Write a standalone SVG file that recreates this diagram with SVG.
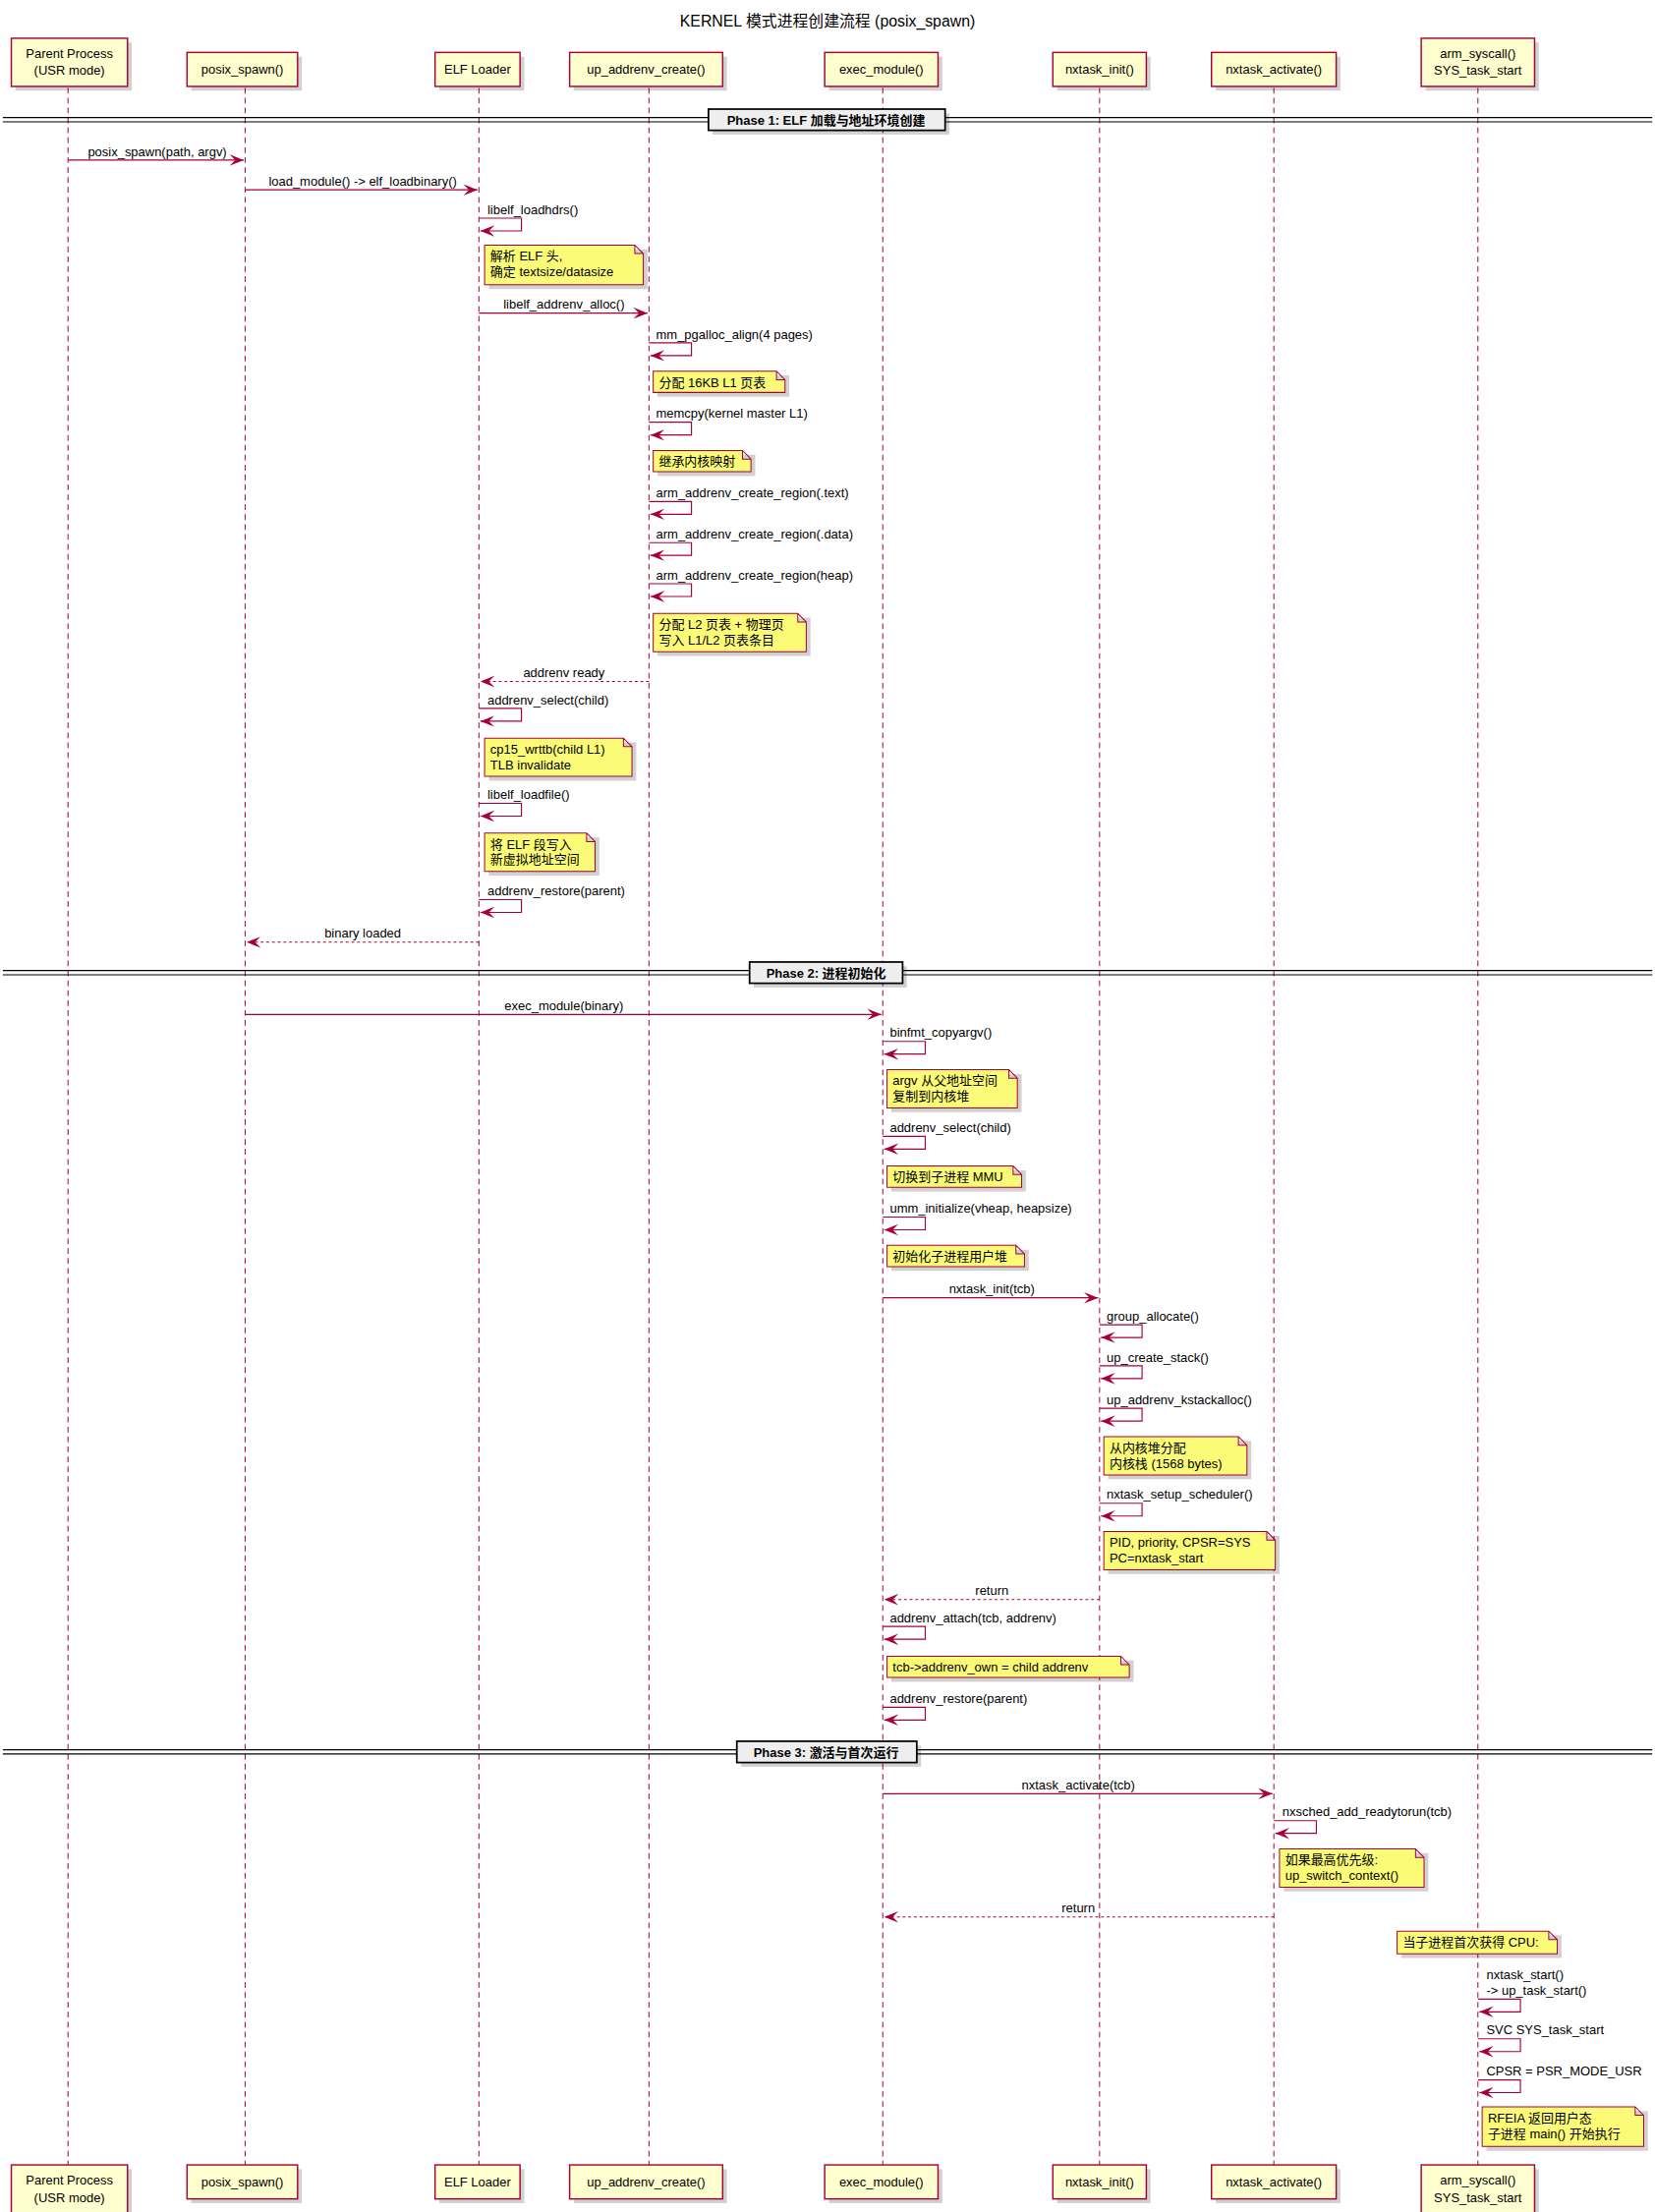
<svg xmlns="http://www.w3.org/2000/svg" width="1684" height="2251" viewBox="0 0 1684 2251">
<style>
text{font-family:"Liberation Sans","Noto Sans CJK SC",sans-serif;font-size:9px;fill:#000}
.t{font-size:11px}
.pb{fill:#FEFECE;stroke:#A80036;stroke-width:1}
.ll{stroke:#A80036;stroke-width:0.7;stroke-dasharray:4 3;fill:none}
.m{stroke:#A80036;stroke-width:0.8;fill:none;marker-end:url(#ah)}
.r{stroke:#A80036;stroke-width:0.8;fill:none;stroke-dasharray:2 2;marker-end:url(#ah)}
.n{fill:#FBFB77;stroke:#A80036;stroke-width:0.7}
.sh{fill:#000;opacity:0.18}
.pl{fill:#EEEEEE;stroke:#000;stroke-width:1.2}
.dv{stroke:#000;stroke-width:0.8}
.b{font-weight:bold}
.c{text-anchor:middle}
</style>
<defs>
<marker id="ah" markerUnits="userSpaceOnUse" markerWidth="12" markerHeight="10" viewBox="0 0 12 10" refX="10" refY="5" orient="auto">
<path d="M0,1 L10,5 L0,9 L4,5 Z" fill="#A80036"/>
</marker>
</defs>
<rect width="1684" height="2251" fill="#fff"/>
<g transform="scale(1.4418)">
<text class="t c" x="584" y="19">KERNEL 模式进程创建流程 (posix_spawn)</text>

<g id="lifelines">
<line class="ll" x1="48" y1="62" x2="48" y2="1528"/>
<line class="ll" x1="173" y1="62" x2="173" y2="1528"/>
<line class="ll" x1="338" y1="62" x2="338" y2="1528"/>
<line class="ll" x1="458" y1="62" x2="458" y2="1528"/>
<line class="ll" x1="623" y1="62" x2="623" y2="1528"/>
<line class="ll" x1="776" y1="62" x2="776" y2="1528"/>
<line class="ll" x1="899" y1="62" x2="899" y2="1528"/>
<line class="ll" x1="1043" y1="62" x2="1043" y2="1528"/>
</g>

<g id="p_parent">
<rect class="sh" x="11" y="30" width="82" height="34"/><rect class="pb" x="8" y="27" width="82" height="34"/>
<text class="c" x="49" y="41">Parent Process</text><text class="c" x="49" y="53">(USR mode)</text>
<rect class="sh" x="11" y="1531" width="82" height="34"/><rect class="pb" x="8" y="1528" width="82" height="34"/>
<text class="c" x="49" y="1542">Parent Process</text><text class="c" x="49" y="1554">(USR mode)</text>
</g>
<g id="p_posix">
<rect class="sh" x="135" y="40" width="78" height="24"/><rect class="pb" x="132" y="37" width="78" height="24"/>
<text class="c" x="171" y="52">posix_spawn()</text>
<rect class="sh" x="135" y="1531" width="78" height="24"/><rect class="pb" x="132" y="1528" width="78" height="24"/>
<text class="c" x="171" y="1543">posix_spawn()</text>
</g>
<g id="p_elf">
<rect class="sh" x="310" y="40" width="60" height="24"/><rect class="pb" x="307" y="37" width="60" height="24"/>
<text class="c" x="337" y="52">ELF Loader</text>
<rect class="sh" x="310" y="1531" width="60" height="24"/><rect class="pb" x="307" y="1528" width="60" height="24"/>
<text class="c" x="337" y="1543">ELF Loader</text>
</g>
<g id="p_up">
<rect class="sh" x="405" y="40" width="108" height="24"/><rect class="pb" x="402" y="37" width="108" height="24"/>
<text class="c" x="456" y="52">up_addrenv_create()</text>
<rect class="sh" x="405" y="1531" width="108" height="24"/><rect class="pb" x="402" y="1528" width="108" height="24"/>
<text class="c" x="456" y="1543">up_addrenv_create()</text>
</g>
<g id="p_exec">
<rect class="sh" x="585" y="40" width="80" height="24"/><rect class="pb" x="582" y="37" width="80" height="24"/>
<text class="c" x="622" y="52">exec_module()</text>
<rect class="sh" x="585" y="1531" width="80" height="24"/><rect class="pb" x="582" y="1528" width="80" height="24"/>
<text class="c" x="622" y="1543">exec_module()</text>
</g>
<g id="p_init">
<rect class="sh" x="746" y="40" width="66" height="24"/><rect class="pb" x="743" y="37" width="66" height="24"/>
<text class="c" x="776" y="52">nxtask_init()</text>
<rect class="sh" x="746" y="1531" width="66" height="24"/><rect class="pb" x="743" y="1528" width="66" height="24"/>
<text class="c" x="776" y="1543">nxtask_init()</text>
</g>
<g id="p_act">
<rect class="sh" x="858" y="40" width="88" height="24"/><rect class="pb" x="855" y="37" width="88" height="24"/>
<text class="c" x="899" y="52">nxtask_activate()</text>
<rect class="sh" x="858" y="1531" width="88" height="24"/><rect class="pb" x="855" y="1528" width="88" height="24"/>
<text class="c" x="899" y="1543">nxtask_activate()</text>
</g>
<g id="p_arm">
<rect class="sh" x="1006" y="30" width="80" height="34"/><rect class="pb" x="1003" y="27" width="80" height="34"/>
<text class="c" x="1043" y="41">arm_syscall()</text><text class="c" x="1043" y="53">SYS_task_start</text>
<rect class="sh" x="1006" y="1531" width="80" height="34"/><rect class="pb" x="1003" y="1528" width="80" height="34"/>
<text class="c" x="1043" y="1542">arm_syscall()</text><text class="c" x="1043" y="1554">SYS_task_start</text>
</g>

<g id="dividers">
<line class="dv" x1="2" y1="83" x2="1166" y2="83"/><line class="dv" x1="2" y1="86" x2="1166" y2="86"/>
<rect class="sh" x="503" y="80" width="167" height="15"/><rect class="pl" x="500" y="77" width="167" height="15"/>
<text class="b c" x="583" y="88">Phase 1: ELF 加载与地址环境创建</text>
<line class="dv" x1="2" y1="685" x2="1166" y2="685"/><line class="dv" x1="2" y1="688" x2="1166" y2="688"/>
<rect class="sh" x="532" y="682" width="108" height="15"/><rect class="pl" x="529" y="679" width="108" height="15"/>
<text class="b c" x="583" y="690">Phase 2: 进程初始化</text>
<line class="dv" x1="2" y1="1235" x2="1166" y2="1235"/><line class="dv" x1="2" y1="1238" x2="1166" y2="1238"/>
<rect class="sh" x="523" y="1232" width="127" height="15"/><rect class="pl" x="520" y="1229" width="127" height="15"/>
<text class="b c" x="583" y="1240">Phase 3: 激活与首次运行</text>
</g>

<g id="connectors">
<path class="m" d="M48,113 H172"/><text class="c" x="111" y="110">posix_spawn(path, argv)</text>
<path class="m" d="M173,134 H337"/><text class="c" x="256" y="131">load_module() -&gt; elf_loadbinary()</text>
<path class="m" d="M338,154 H368 V163 H339"/><text x="344" y="151">libelf_loadhdrs()</text>
<path class="m" d="M338,221 H457"/><text class="c" x="398" y="218">libelf_addrenv_alloc()</text>
<path class="m" d="M458,242 H488 V251 H459"/><text x="463" y="239">mm_pgalloc_align(4 pages)</text>
<path class="m" d="M458,298 H488 V307 H459"/><text x="463" y="295">memcpy(kernel master L1)</text>
<path class="m" d="M458,354 H488 V363 H459"/><text x="463" y="351">arm_addrenv_create_region(.text)</text>
<path class="m" d="M458,383 H488 V392 H459"/><text x="463" y="380">arm_addrenv_create_region(.data)</text>
<path class="m" d="M458,412 H488 V421 H459"/><text x="463" y="409">arm_addrenv_create_region(heap)</text>
<path class="r" d="M458,481 H339"/><text class="c" x="398" y="478">addrenv ready</text>
<path class="m" d="M338,500 H368 V509 H339"/><text x="344" y="497">addrenv_select(child)</text>
<path class="m" d="M338,567 H368 V576 H339"/><text x="344" y="564">libelf_loadfile()</text>
<path class="m" d="M338,635 H368 V644 H339"/><text x="344" y="632">addrenv_restore(parent)</text>
<path class="r" d="M338,665 H174"/><text class="c" x="256" y="662">binary loaded</text>
<path class="m" d="M173,716 H622"/><text class="c" x="398" y="713">exec_module(binary)</text>
<path class="m" d="M623,735 H653 V744 H624"/><text x="628" y="732">binfmt_copyargv()</text>
<path class="m" d="M623,802 H653 V811 H624"/><text x="628" y="799">addrenv_select(child)</text>
<path class="m" d="M623,859 H653 V868 H624"/><text x="628" y="856">umm_initialize(vheap, heapsize)</text>
<path class="m" d="M623,916 H775"/><text class="c" x="700" y="913">nxtask_init(tcb)</text>
<path class="m" d="M776,935 H806 V944 H777"/><text x="781" y="932">group_allocate()</text>
<path class="m" d="M776,964 H806 V973 H777"/><text x="781" y="961">up_create_stack()</text>
<path class="m" d="M776,994 H806 V1003 H777"/><text x="781" y="991">up_addrenv_kstackalloc()</text>
<path class="m" d="M776,1061 H806 V1070 H777"/><text x="781" y="1058">nxtask_setup_scheduler()</text>
<path class="r" d="M776,1129 H624"/><text class="c" x="700" y="1126">return</text>
<path class="m" d="M623,1148 H653 V1157 H624"/><text x="628" y="1145">addrenv_attach(tcb, addrenv)</text>
<path class="m" d="M623,1205 H653 V1214 H624"/><text x="628" y="1202">addrenv_restore(parent)</text>
<path class="m" d="M623,1266 H898"/><text class="c" x="761" y="1263">nxtask_activate(tcb)</text>
<path class="m" d="M899,1285 H929 V1294 H900"/><text x="905" y="1282">nxsched_add_readytorun(tcb)</text>
<path class="r" d="M899,1353 H624"/><text class="c" x="761" y="1350">return</text>
<path class="m" d="M1043,1411 H1073 V1420 H1044"/><text x="1049" y="1397">nxtask_start()</text><text x="1049" y="1408">-&gt; up_task_start()</text>
<path class="m" d="M1043,1439 H1073 V1448 H1044"/><text x="1049" y="1436">SVC SYS_task_start</text>
<path class="m" d="M1043,1468 H1073 V1477 H1044"/><text x="1049" y="1465">CPSR = PSR_MODE_USR</text>
</g>

<g id="notes">
<g><path class="sh" d="M345,176 H457 V204 H345 Z"/><path class="n" d="M342,173 H448 L454,179 V201 H342 Z M448,173 V179 H454"/><text x="346" y="184">解析 ELF 头,</text><text x="346" y="195">确定 textsize/datasize</text></g>
<g><path class="sh" d="M464,265 H557 V280 H464 Z"/><path class="n" d="M461,262 H548 L554,268 V277 H461 Z M548,262 V268 H554"/><text x="465" y="273">分配 16KB L1 页表</text></g>
<g><path class="sh" d="M464,321 H533 V336 H464 Z"/><path class="n" d="M461,318 H524 L530,324 V333 H461 Z M524,318 V324 H530"/><text x="465" y="329">继承内核映射</text></g>
<g><path class="sh" d="M464,436 H572 V463 H464 Z"/><path class="n" d="M461,433 H563 L569,439 V460 H461 Z M563,433 V439 H569"/><text x="465" y="444">分配 L2 页表 + 物理页</text><text x="465" y="455">写入 L1/L2 页表条目</text></g>
<g><path class="sh" d="M345,524 H449 V551 H345 Z"/><path class="n" d="M342,521 H440 L446,527 V548 H342 Z M440,521 V527 H446"/><text x="346" y="532">cp15_wrttb(child L1)</text><text x="346" y="543">TLB invalidate</text></g>
<g><path class="sh" d="M345,591 H423 V618 H345 Z"/><path class="n" d="M342,588 H414 L420,594 V615 H342 Z M414,588 V594 H420"/><text x="346" y="599">将 ELF 段写入</text><text x="346" y="610">新虚拟地址空间</text></g>
<g><path class="sh" d="M629,758 H721 V785 H629 Z"/><path class="n" d="M626,755 H712 L718,761 V782 H626 Z M712,755 V761 H718"/><text x="630" y="766">argv 从父地址空间</text><text x="630" y="777">复制到内核堆</text></g>
<g><path class="sh" d="M629,826 H724 V841 H629 Z"/><path class="n" d="M626,823 H715 L721,829 V838 H626 Z M715,823 V829 H721"/><text x="630" y="834">切换到子进程 MMU</text></g>
<g><path class="sh" d="M629,882 H726 V897 H629 Z"/><path class="n" d="M626,879 H717 L723,885 V894 H626 Z M717,879 V885 H723"/><text x="630" y="890">初始化子进程用户堆</text></g>
<g><path class="sh" d="M782,1017 H883 V1044 H782 Z"/><path class="n" d="M779,1014 H874 L880,1020 V1041 H779 Z M874,1014 V1020 H880"/><text x="783" y="1025">从内核堆分配</text><text x="783" y="1036">内核栈 (1568 bytes)</text></g>
<g><path class="sh" d="M782,1084 H903 V1111 H782 Z"/><path class="n" d="M779,1081 H894 L900,1087 V1108 H779 Z M894,1081 V1087 H900"/><text x="783" y="1092">PID, priority, CPSR=SYS</text><text x="783" y="1103">PC=nxtask_start</text></g>
<g><path class="sh" d="M629,1172 H800 V1187 H629 Z"/><path class="n" d="M626,1169 H791 L797,1175 V1184 H626 Z M791,1169 V1175 H797"/><text x="630" y="1180">tcb-&gt;addrenv_own = child addrenv</text></g>
<g><path class="sh" d="M906,1308 H1008 V1335 H906 Z"/><path class="n" d="M903,1305 H999 L1005,1311 V1332 H903 Z M999,1305 V1311 H1005"/><text x="907" y="1316">如果最高优先级:</text><text x="907" y="1327">up_switch_context()</text></g>
<g><path class="sh" d="M989,1366 H1102 V1382 H989 Z"/><path class="n" d="M986,1363 H1093 L1099,1369 V1379 H986 Z M1093,1363 V1369 H1099"/><text x="990" y="1374">当子进程首次获得 CPU:</text></g>
<g><path class="sh" d="M1049,1490 H1163 V1518 H1049 Z"/><path class="n" d="M1046,1487 H1154 L1160,1493 V1515 H1046 Z M1154,1487 V1493 H1160"/><text x="1050" y="1498">RFEIA 返回用户态</text><text x="1050" y="1509">子进程 main() 开始执行</text></g>
</g>
</g>
</svg>
